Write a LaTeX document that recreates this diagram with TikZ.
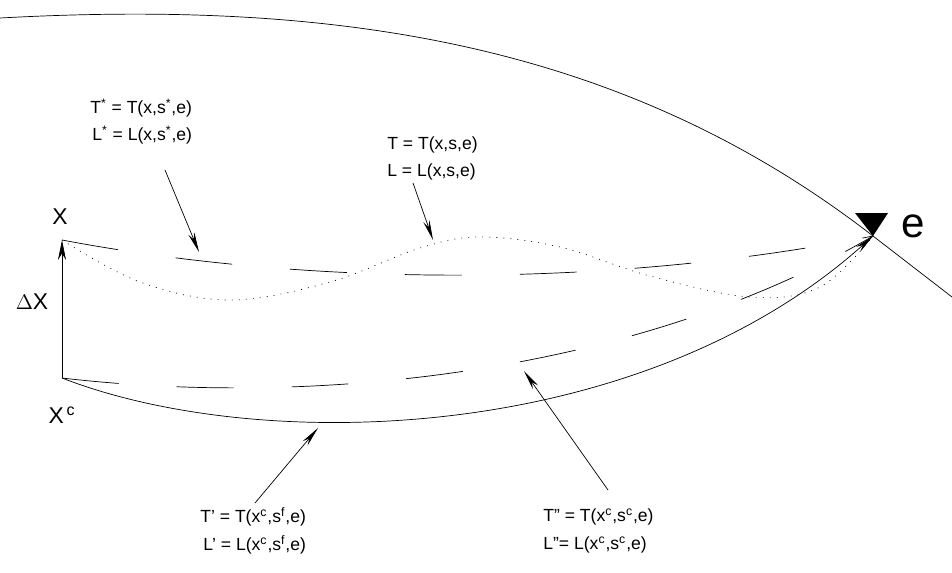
\documentclass[tikz,border=0pt]{standalone}
\usepackage{fontspec}
\setmainfont{Liberation Sans}
\usetikzlibrary{arrows.meta,positioning,calc}

\begin{document}
\begin{tikzpicture}[x=0.02cm, y=-0.02cm,
  curvelbl/.style={font=\fontsize{10}{12}\selectfont, anchor=west, inner sep=0pt},
  ptlbl/.style={font=\fontsize{13}{14}\selectfont, inner sep=0pt},
  pointer/.style={draw, thin, -{Stealth[length=4mm,width=1.3mm]}},
  pathdash/.style={draw, thin, dash pattern=on 11.4mm off 11.6mm},
  pathdot/.style={draw, thin, dash pattern=on 0.5pt off 3.5pt},
  pathsolid/.style={draw, thin},
]
  \useasboundingbox (0,0) rectangle (952,572);

  % ========= end and start points =========
  \coordinate (e) at (873,236);
  \coordinate (X) at (62,240);
  \coordinate (Xc) at (62,378);

  % boundary arc through e
  \draw[pathsolid] (0,18) .. controls (330,0) and (620,40) .. (e) -- (952,297);
  \fill (e) -- (855,213) -- (888,213) -- cycle;
  \node[font=\fontsize{24}{24}\selectfont, inner sep=0pt] (elbl) at (913,226) {e};

  % ========= X and X^c =========
  \node[ptlbl] (xlbl) at (60,217) {X};
  \node[ptlbl] (dxlbl) at (32,302) {$\Delta$X};
  \node[ptlbl] (xclbl) at (62,415) {X\textsuperscript{\,c}};
  \draw[pathsolid, -{Stealth[length=4mm,width=1.6mm]}] (Xc) -- (X);

  % ========= paths to e =========
  % T*, from X
  \draw[pathdash] (X) .. controls (300,285) and (600,290) .. (e);
  % T, from X
  \draw[pathdot] plot[smooth, tension=0.6] coordinates {(X) (140,282) (230,300)
        (330,282) (420,248) (480,237) (560,247) (650,276) (750,297) (820,287) (e)};
  % T'', from X^c
  \draw[pathdash] (Xc) .. controls (320,408) and (640,372) .. (e);
  % T', from X^c
  \draw[pathsolid, -{Stealth[length=4mm,width=1.3mm]}]
       (Xc) .. controls (260,455) and (640,445) .. (e);

  % ========= labels =========
  \node[curvelbl] (tstar) at (90,108) {T\textsuperscript{*} = T(x,s\textsuperscript{*},e)};
  \node[curvelbl] (lstar) at (92,135) {L\textsuperscript{*} = L(x,s\textsuperscript{*},e)};
  \node[curvelbl] (tplain) at (387,145) {T = T(x,s,e)};
  \node[curvelbl] (lplain) at (387,172) {L = L(x,s,e)};
  \node[curvelbl] (tprime) at (200,517) {T' = T(x\textsuperscript{c},s\textsuperscript{f},e)};
  \node[curvelbl] (lprime) at (203,545) {L' = L(x\textsuperscript{c},s\textsuperscript{f},e)};
  \node[curvelbl] (tdprime) at (543,517) {T'' = T(x\textsuperscript{c},s\textsuperscript{c},e)};
  \node[curvelbl] (ldprime) at (543,545) {L''= L(x\textsuperscript{c},s\textsuperscript{c},e)};

  % pointers from labels to paths
  \coordinate (pstarA) at (165,170);  \coordinate (pstarB) at (199,252);
  \coordinate (pplainA) at (413,183); \coordinate (pplainB) at (433,240);
  \coordinate (pprimeA) at (255,503); \coordinate (pprimeB) at (318,428);
  \coordinate (pdprimeA) at (608,490); \coordinate (pdprimeB) at (524,371);
  \draw[pointer] (pstarA) -- (pstarB);
  \draw[pointer] (pplainA) -- (pplainB);
  \draw[pointer] (pprimeA) -- (pprimeB);
  \draw[pointer] (pdprimeA) -- (pdprimeB);

\end{tikzpicture}
\end{document}
